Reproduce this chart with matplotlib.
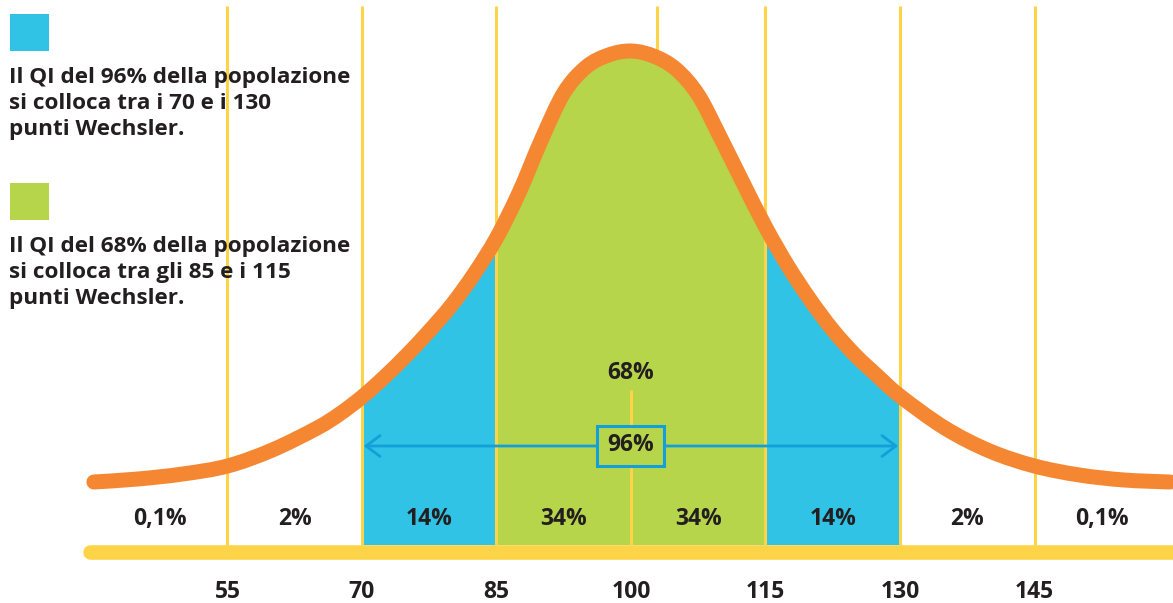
import matplotlib
matplotlib.use("Agg")
import matplotlib.pyplot as plt
from matplotlib.patches import Rectangle, PathPatch
from matplotlib.path import Path
import numpy as np

plt.rcParams['font.family'] = ['Open Sans', 'DejaVu Sans']

# ---- data ----
curve_iq = [40.1, 45, 50, 55, 60, 65, 67.5, 70, 72.5, 75, 77.5, 80, 82.5, 85, 87.5,
            90, 92.5, 95, 97.5, 100, 102.5, 105, 107.5, 110, 112.5, 115, 117.5,
            120, 122.5, 125, 127.5, 130, 135, 140, 145, 150, 155, 160.1]
curve_h = [63, 66, 71, 79, 95, 117, 131, 148, 168, 190, 214, 240, 271, 307, 352,
           405, 452, 478, 490, 494, 489, 476, 450, 407, 362, 318, 279,
           245, 215, 190, 169, 149, 117, 94, 79, 70, 65, 63]
tick_values = [55, 70, 85, 100, 115, 130, 145]
band_edges = [40, 55, 70, 85, 100, 115, 130, 145, 160]
band_labels = ["0,1%", "2%", "14%", "34%", "34%", "14%", "2%", "0,1%"]
region_96 = (70, 130)
region_68 = (85, 115)
label_68 = "68%"
label_96 = "96%"
legend_texts = ["Il QI del 96% della popolazione\nsi colloca tra i 70 e i 130\npunti Wechsler.",
                "Il QI del 68% della popolazione\nsi colloca tra gli 85 e i 115\npunti Wechsler."]

# ---- styles ----
BLUE = "#31C3E5"
GREEN = "#B7D54A"
ORANGE = "#F58733"
YELLOW = "#FDD447"
ARROW = "#139FDA"
TEXT = "#231F20"

W, H = 1173, 603
fig = plt.figure(figsize=(W / 100, H / 100), dpi=100)
ax = fig.add_axes([0, 0, 1, 1])
px = 15 / 134.5  # IQ units per pixel
ax.set_xlim(100 - 631 * px, 100 + (W - 631) * px)
ax.set_ylim(545 - H, 545)
ax.axis('off')

pts = np.column_stack([curve_iq, curve_h]).astype(float)


def smooth_path(p):
    """Catmull-Rom style cubic Bezier path through the read points."""
    verts = [p[0]]
    codes = [Path.MOVETO]
    n = len(p)
    for i in range(n - 1):
        p0 = p[i - 1] if i > 0 else p[i]
        p1 = p[i]
        p2 = p[i + 1]
        p3 = p[i + 2] if i + 2 < n else p[i + 1]
        c1 = p1 + (p2 - p0) / 6.0
        c2 = p2 - (p3 - p1) / 6.0
        verts += [c1, c2, p2]
        codes += [Path.CURVE4] * 3
    return verts, codes


cv, cc = smooth_path(pts)
curve_path = Path(cv, cc)

# closed area under curve for clipping the fills
area_verts = cv + [(pts[-1][0], 0), (pts[0][0], 0), (pts[0][0], 0)]
area_codes = cc + [Path.LINETO, Path.LINETO, Path.CLOSEPOLY]
area_patch = PathPatch(Path(area_verts, area_codes), facecolor='none', edgecolor='none')
ax.add_patch(area_patch)

for (a, b), col in [((region_96[0], region_68[0]), BLUE),
                    ((region_68[0], region_68[1]), GREEN),
                    ((region_68[1], region_96[1]), BLUE)]:
    r = Rectangle((a, 0), b - a, 540, facecolor=col, lw=0, zorder=1)
    ax.add_patch(r)
    r.set_clip_path(area_patch)

# vertical guide lines
for v in tick_values:
    top = 155 if v == 100 else 539
    ax.plot([v, v], [0, top], color=YELLOW, lw=2.2, zorder=2, solid_capstyle='butt')
ax.plot([102.9, 102.9], [480, 539], color=YELLOW, lw=2.2, zorder=2, solid_capstyle='butt')

# base bar
ax.plot([100 - 541 * px, 100 + 600 * px], [-7, -7], color=YELLOW, lw=10.5,
        solid_capstyle='round', zorder=2.5)

# the curve
ax.add_patch(PathPatch(curve_path, facecolor='none', edgecolor=ORANGE, lw=10.8,
                       capstyle='round', joinstyle='round', zorder=3))

# 96% arrow
ay = 99
ax.annotate('', xy=(region_96[0] + 0.2, ay), xytext=(region_96[1] - 0.2, ay),
            arrowprops=dict(arrowstyle='<->,head_length=1.0,head_width=0.75',
                            color=ARROW, lw=2.0, shrinkA=0, shrinkB=0, mutation_scale=10),
            zorder=4)
ax.add_patch(Rectangle((100 - 34 * px, 79), 67 * px, 40, facecolor=GREEN,
                       edgecolor=ARROW, lw=2.2, zorder=5))
ax.text(100, ay + 1, label_96, ha='center', va='center', fontsize=16.5, fontweight='bold',
        color=TEXT, zorder=6)
ax.text(100, 172, label_68, ha='center', va='center', fontsize=16.5, fontweight='bold',
        color=TEXT, zorder=6)

# band labels
for i, lab in enumerate(band_labels):
    xc = (band_edges[i] + band_edges[i + 1]) / 2
    ax.text(xc, 26, lab, ha='center', va='center', fontsize=16.5, fontweight='bold',
            color=TEXT, zorder=6)

# tick labels
for v in tick_values:
    ax.text(v, -47, str(v), ha='center', va='center', fontsize=16.5, fontweight='bold',
            color=TEXT, zorder=6)

# legend
x0 = 100 - 621 * px
ax.add_patch(Rectangle((x0, 545 - 51), 39 * px, 37, facecolor=BLUE, lw=0, zorder=6))
ax.add_patch(Rectangle((x0, 545 - 220), 39 * px, 37, facecolor=GREEN, lw=0, zorder=6))
fig.text(9 / W, 1 - 67 / H, legend_texts[0], ha='left', va='top', fontsize=16.2,
         fontweight='bold', color=TEXT, linespacing=1.32, zorder=7)
fig.text(9 / W, 1 - 236 / H, legend_texts[1], ha='left', va='top', fontsize=16.2,
         fontweight='bold', color=TEXT, linespacing=1.32, zorder=7)

fig.savefig("out.png", dpi=100, facecolor='white')
